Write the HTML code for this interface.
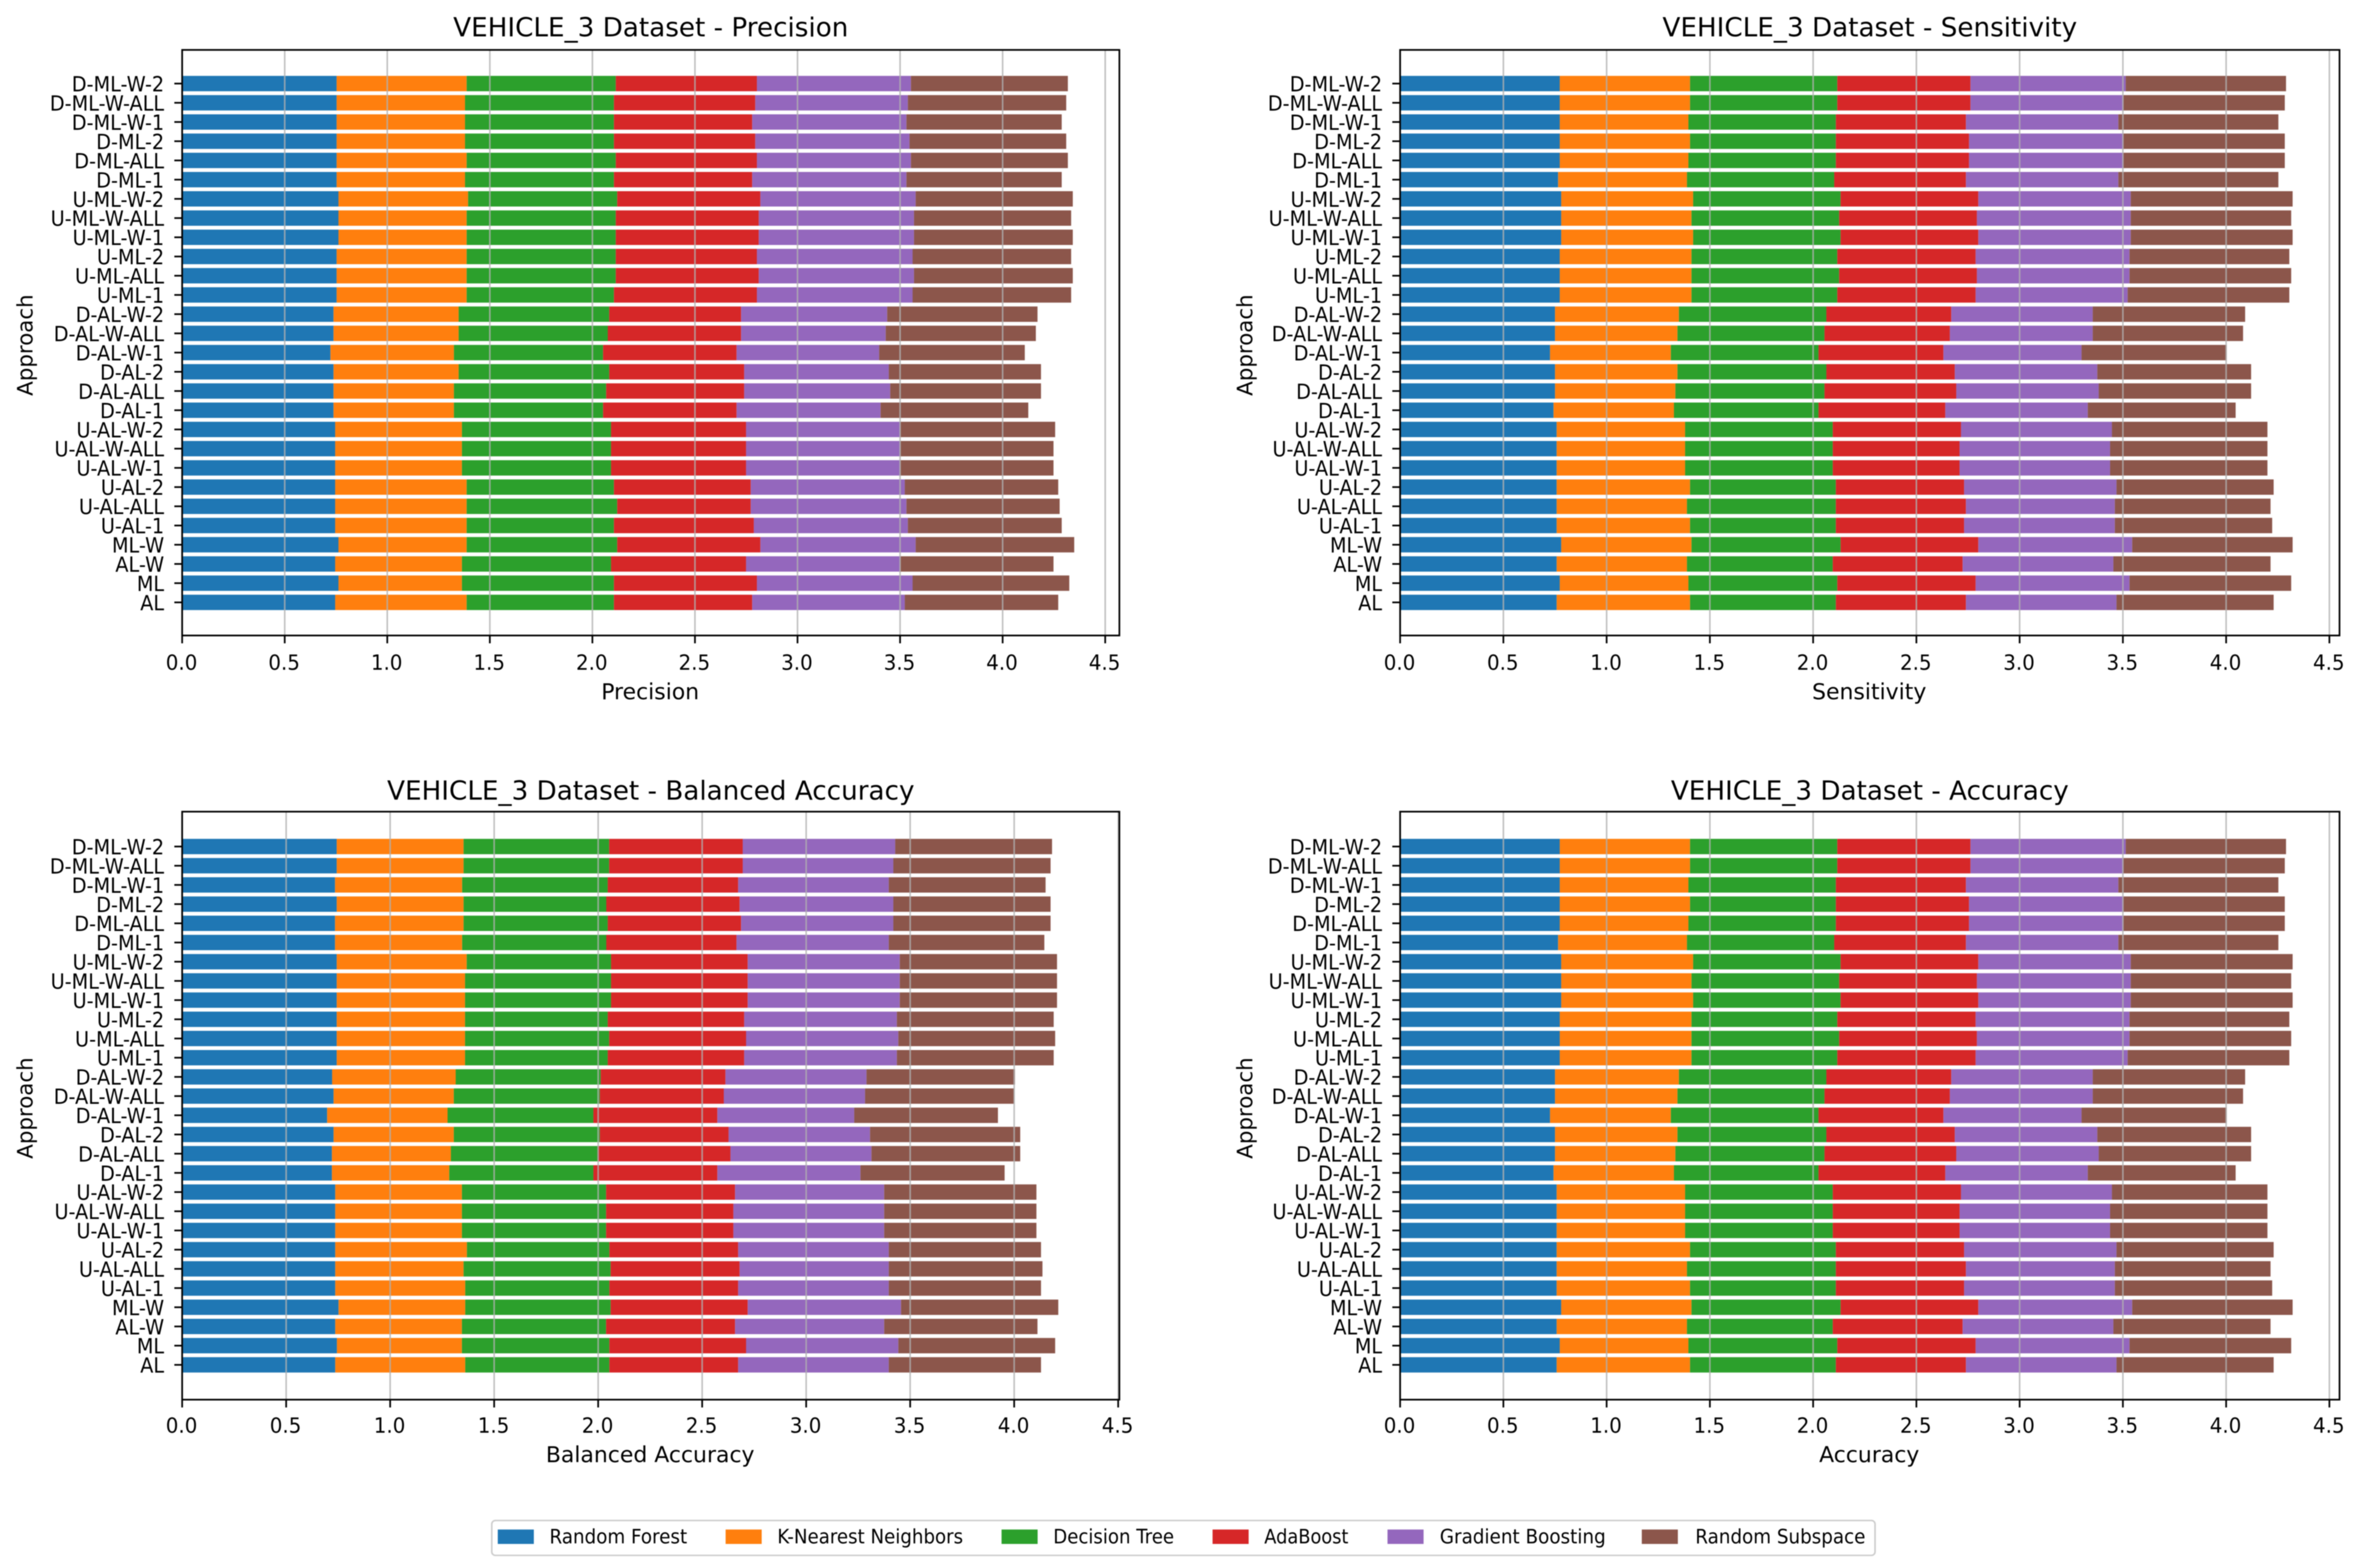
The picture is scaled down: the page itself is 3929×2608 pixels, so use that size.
<!DOCTYPE html>
<html lang="en">
<head>
<meta charset="utf-8">
<title>VEHICLE_3 Dataset - Stacked Metrics</title>
<style>
html,body{margin:0;padding:0;background:#fff;}
#chart{display:block;width:3929px;height:2608px;font-family:"DejaVu Sans","Liberation Sans",sans-serif;filter:blur(0.9px);}
</style>
</head>
<body>
<svg id="chart" xmlns="http://www.w3.org/2000/svg" width="3929" height="2608" viewBox="0 0 3929 2608"></svg>
<script>
const categories = ['D-ML-W-2','D-ML-W-ALL','D-ML-W-1','D-ML-2','D-ML-ALL','D-ML-1','U-ML-W-2','U-ML-W-ALL','U-ML-W-1','U-ML-2','U-ML-ALL','U-ML-1','D-AL-W-2','D-AL-W-ALL','D-AL-W-1','D-AL-2','D-AL-ALL','D-AL-1','U-AL-W-2','U-AL-W-ALL','U-AL-W-1','U-AL-2','U-AL-ALL','U-AL-1','ML-W','AL-W','ML','AL'];
const seriesNames = ['Random Forest','K-Nearest Neighbors','Decision Tree','AdaBoost','Gradient Boosting','Random Subspace'];
const seriesColors = ['#1f77b4','#ff7f0e','#2ca02c','#d62728','#9467bd','#8c564b'];
const xTicks = [0,0.5,1,1.5,2,2.5,3,3.5,4,4.5];
const xTickLabels = ['0.0','0.5','1.0','1.5','2.0','2.5','3.0','3.5','4.0','4.5'];

const precisionRF = [.753,.753,.753,.753,.753,.753,.762,.762,.762,.753,.753,.753,.738,.738,.723,.738,.738,.738,.746,.746,.746,.746,.746,.746,.762,.746,.762,.746];
const precisionKNN = [.634,.626,.626,.626,.634,.626,.632,.625,.625,.634,.634,.634,.610,.610,.602,.610,.587,.587,.618,.618,.618,.641,.641,.641,.625,.618,.602,.641];
const precisionDT = [.727,.726,.726,.726,.727,.726,.727,.727,.727,.727,.727,.718,.734,.727,.727,.734,.742,.727,.727,.727,.727,.718,.734,.718,.734,.727,.741,.718];
const precisionAda = [.688,.689,.674,.689,.688,.674,.698,.697,.697,.688,.697,.697,.643,.650,.651,.658,.673,.651,.658,.658,.658,.667,.651,.682,.698,.658,.697,.674];
const precisionGB = [.751,.744,.752,.752,.751,.752,.757,.757,.757,.759,.757,.759,.712,.705,.695,.705,.712,.702,.751,.751,.751,.751,.759,.751,.757,.751,.759,.744];
const precisionRS = [.765,.772,.757,.764,.765,.757,.766,.766,.774,.773,.774,.773,.733,.732,.710,.742,.735,.720,.756,.748,.748,.748,.747,.750,.773,.748,.764,.748];

const sensitivityRF = [.773,.773,.773,.773,.773,.765,.780,.780,.780,.773,.773,.773,.750,.750,.726,.750,.750,.743,.758,.758,.758,.758,.758,.758,.780,.758,.773,.758];
const sensitivityKNN = [.631,.631,.623,.631,.623,.624,.639,.631,.639,.638,.638,.638,.600,.593,.585,.593,.583,.583,.622,.622,.622,.646,.631,.646,.631,.631,.623,.646];
const sensitivityDT = [.713,.713,.714,.706,.714,.713,.714,.715,.714,.706,.715,.706,.714,.712,.715,.721,.722,.700,.715,.715,.715,.706,.721,.706,.722,.706,.721,.706];
const sensitivityAda = [.645,.645,.630,.645,.645,.638,.667,.667,.667,.670,.667,.670,.605,.607,.605,.622,.638,.614,.621,.614,.614,.621,.630,.621,.667,.629,.670,.630];
const sensitivityGB = [.752,.740,.738,.747,.747,.738,.738,.745,.738,.745,.739,.736,.685,.692,.669,.690,.690,.690,.731,.729,.729,.738,.721,.730,.745,.730,.745,.729];
const sensitivityRS = [.776,.782,.775,.782,.782,.775,.784,.777,.784,.774,.783,.783,.738,.728,.702,.745,.738,.716,.753,.762,.762,.761,.754,.762,.777,.761,.783,.761];

const balancedRF = [.743,.743,.735,.743,.735,.735,.743,.743,.743,.743,.743,.743,.721,.728,.697,.728,.720,.720,.736,.736,.736,.736,.736,.736,.752,.736,.744,.736];
const balancedKNN = [.610,.610,.611,.610,.618,.611,.625,.617,.617,.617,.617,.617,.594,.578,.579,.578,.572,.564,.609,.609,.609,.633,.617,.625,.609,.609,.601,.625];
const balancedDT = [.700,.700,.700,.686,.693,.693,.694,.702,.702,.686,.693,.686,.697,.702,.701,.702,.705,.693,.693,.693,.693,.685,.707,.693,.699,.693,.709,.693];
const balancedAda = [.642,.642,.627,.641,.641,.626,.657,.657,.657,.656,.658,.656,.600,.596,.596,.619,.639,.596,.620,.612,.612,.619,.620,.619,.659,.620,.657,.619];
const balancedGB = [.733,.724,.724,.739,.732,.732,.731,.731,.731,.734,.732,.734,.678,.679,.658,.680,.678,.688,.717,.725,.725,.724,.717,.724,.737,.717,.732,.724];
const balancedRS = [.754,.756,.754,.756,.756,.748,.756,.756,.756,.754,.754,.754,.714,.717,.691,.722,.715,.693,.732,.732,.732,.732,.739,.732,.756,.737,.754,.732];

const accuracyRF = [.773,.773,.773,.773,.773,.765,.780,.780,.780,.773,.773,.773,.750,.750,.726,.750,.750,.743,.758,.758,.758,.758,.758,.758,.780,.758,.773,.758];
const accuracyKNN = [.631,.631,.623,.631,.623,.624,.639,.631,.639,.638,.638,.638,.600,.593,.585,.593,.583,.583,.622,.622,.622,.646,.631,.646,.631,.631,.623,.646];
const accuracyDT = [.713,.713,.714,.706,.714,.713,.714,.715,.714,.706,.715,.706,.714,.712,.715,.721,.722,.700,.715,.715,.715,.706,.721,.706,.722,.706,.721,.706];
const accuracyAda = [.645,.645,.630,.645,.645,.638,.667,.667,.667,.670,.667,.670,.605,.607,.605,.622,.638,.614,.621,.614,.614,.621,.630,.621,.667,.629,.670,.630];
const accuracyGB = [.752,.740,.738,.747,.747,.738,.738,.745,.738,.745,.739,.736,.685,.692,.669,.690,.690,.690,.731,.729,.729,.738,.721,.730,.745,.730,.745,.729];
const accuracyRS = [.776,.782,.775,.782,.782,.775,.784,.777,.784,.774,.783,.783,.738,.728,.702,.745,.738,.716,.753,.762,.762,.761,.754,.762,.777,.761,.783,.761];

const NS = 'http://www.w3.org/2000/svg';
const root = document.getElementById('chart');

function make(tag, attrs, parent, text) {
  const el = document.createElementNS(NS, tag);
  for (const k in attrs) el.setAttribute(k, attrs[k]);
  if (text !== undefined) el.textContent = text;
  (parent || root).appendChild(el);
  return el;
}

// Condense glyphs horizontally to imitate the tall, narrow hinted text of the reference.
function condense(el, ratio) {
  const w = el.getComputedTextLength();
  el.setAttribute('textLength', (w * ratio).toFixed(1));
  el.setAttribute('lengthAdjust', 'spacingAndGlyphs');
}

function drawPanel(p) {
  const xScale = function (v) { return p.x0 + v * p.unit; };
  const yScale = function (i) { return p.yFirst + i * p.yStep; };
  const barH = p.yStep * 0.8;

  const g = make('g', {});
  
  

  const title = make('text', {x:(p.x0+p.x1)/2, y:p.titleY, 'text-anchor':'middle', 'font-size':43.6, fill:'#000'}, g, p.title);
  
  

  p.series.forEach(function (vals, s) {
    const sg = make('g', {fill:seriesColors[s]}, g);
    
    
    categories.forEach(function (cat, i) {
      let start = 0;
      for (let k = 0; k < s; k++) start += p.series[k][i];
      const bar = make('rect', {x:xScale(start), y:yScale(i)-barH/2, width:vals[i]*p.unit, height:barH}, sg);
      
      
    });
  });

  xTicks.forEach(function (t, i) {
    const gl = make('line', {x1:xScale(t), x2:xScale(t), y1:p.y0, y2:p.y1, stroke:'#b0b0b0', 'stroke-width':2.6, 'stroke-opacity':0.8}, g);
    
    
    const tk = make('line', {x1:xScale(t), x2:xScale(t), y1:p.y1, y2:p.y1+13, stroke:'#000', 'stroke-width':2.8}, g);
    
    
    const lb = make('text', {x:xScale(t)-1, y:p.xTickY, 'text-anchor':'middle', 'font-size':34.5, fill:'#000'}, g, xTickLabels[i]);
    
    
    condense(lb, 33/34.5);
  });

  categories.forEach(function (cat, i) {
    const tk = make('line', {x1:p.x0-13, x2:p.x0, y1:yScale(i), y2:yScale(i), stroke:'#000', 'stroke-width':2.8}, g);
    
    
    const lb = make('text', {x:p.x0-30, y:yScale(i)+13, 'text-anchor':'end', 'font-size':34.5, fill:'#000'}, g, cat);
    
    
    condense(lb, 32/34.5);
  });

  const frame = make('rect', {x:p.x0, y:p.y0, width:p.x1-p.x0, height:p.y1-p.y0, fill:'none', stroke:'#000', 'stroke-width':2.8}, g);
  
  

  const xl = make('text', {x:(p.x0+p.x1)/2-1, y:p.xLabelY, 'text-anchor':'middle', 'font-size':36.5, fill:'#000'}, g, p.xLabel);
  
  

  const yl = make('text', {x:0, y:0, transform:'translate(' + p.yLabelX + ',' + p.yLabelY + ') rotate(-90)', 'text-anchor':'middle', 'font-size':35.5, fill:'#000'}, g, 'Approach');
  
  
}

drawPanel({key:'precision', title:'VEHICLE_3 Dataset - Precision', xLabel:'Precision',
  series:[precisionRF,precisionKNN,precisionDT,precisionAda,precisionGB,precisionRS],
  x0:303, x1:1862, unit:341.2, y0:83, y1:1057, yFirst:139, yStep:31.96,
  titleY:60.5, xTickY:1114, xLabelY:1163, yLabelX:54, yLabelY:574});
drawPanel({key:'sensitivity', title:'VEHICLE_3 Dataset - Sensitivity', xLabel:'Sensitivity',
  series:[sensitivityRF,sensitivityKNN,sensitivityDT,sensitivityAda,sensitivityGB,sensitivityRS],
  x0:2329, x1:3891.6, unit:343.5, y0:83, y1:1057, yFirst:139, yStep:31.96,
  titleY:60.5, xTickY:1114, xLabelY:1163, yLabelX:2083, yLabelY:574});
drawPanel({key:'balanced-accuracy', title:'VEHICLE_3 Dataset - Balanced Accuracy', xLabel:'Balanced Accuracy',
  series:[balancedRF,balancedKNN,balancedDT,balancedAda,balancedGB,balancedRS],
  x0:303, x1:1862, unit:346, y0:1350, y1:2328, yFirst:1408, yStep:31.93,
  titleY:1330, xTickY:2383, xLabelY:2432, yLabelX:54, yLabelY:1843});
drawPanel({key:'accuracy', title:'VEHICLE_3 Dataset - Accuracy', xLabel:'Accuracy',
  series:[accuracyRF,accuracyKNN,accuracyDT,accuracyAda,accuracyGB,accuracyRS],
  x0:2329, x1:3891.6, unit:343.5, y0:1350, y1:2328, yFirst:1408, yStep:31.93,
  titleY:1330, xTickY:2383, xLabelY:2432, yLabelX:2083, yLabelY:1843});

const legend = make('g', {});


const legendBox = make('rect', {x:818, y:2529, width:2301, height:58, rx:6, ry:6, fill:'#fff', stroke:'#cccccc', 'stroke-width':2.6}, legend);



function drawLegendEntry(i, swatchX, textX, textWidth) {
  const swatch = make('rect', {x:swatchX, y:2544, width:60, height:24, fill:seriesColors[i]}, legend);
  
  
  const label = make('text', {x:textX, y:2567, 'font-size':32.5, fill:'#000', textLength:textWidth, lengthAdjust:'spacingAndGlyphs'}, legend, seriesNames[i]);
  
  
}
drawLegendEntry(0, 828, 914, 229);
drawLegendEntry(1, 1207, 1293, 309);
drawLegendEntry(2, 1666, 1752, 201);
drawLegendEntry(3, 2017, 2103, 140);
drawLegendEntry(4, 2308, 2395, 276);
drawLegendEntry(5, 2731, 2820, 283);
</script>
</body>
</html>
